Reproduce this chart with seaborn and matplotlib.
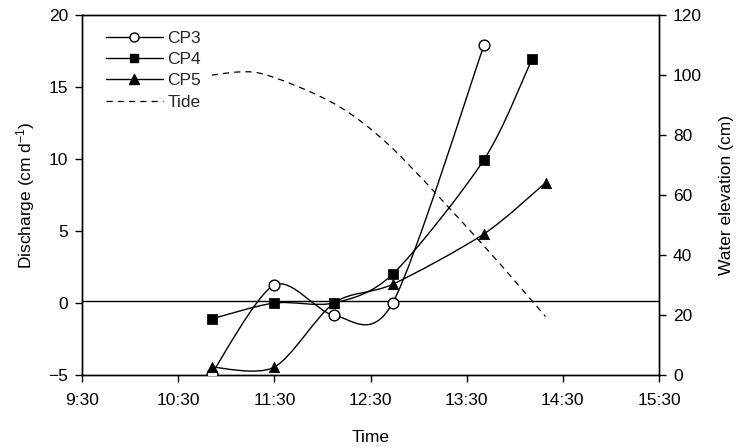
import numpy as np
import pandas as pd
import matplotlib
matplotlib.use("Agg")
import matplotlib.pyplot as plt
from matplotlib.path import Path
from matplotlib.patches import PathPatch
from matplotlib.lines import Line2D
import seaborn as sns

# ---- data (time in decimal hours) ----
cp3_time = [10.85, 11.50, 12.12, 12.73, 13.68]
cp3_q = [-4.9, 1.25, -0.85, 0.0, 17.9]

cp4_time = [10.85, 11.50, 12.12, 12.73, 13.68, 14.18]
cp4_q = [-1.1, 0.0, 0.0, 2.0, 9.95, 16.95]

cp5_time = [10.85, 11.50, 12.12, 12.73, 13.68, 14.32]
cp5_q = [-4.45, -4.45, 0.0, 1.3, 4.8, 8.35]

tide_time = [10.85, 11.35, 12.12, 12.73, 13.68, 14.32]
tide_cm = [100.0, 100.6, 90.5, 75.5, 43.0, 19.5]

xtick_vals = [9.5, 10.5, 11.5, 12.5, 13.5, 14.5, 15.5]
xtick_labels = ["9:30", "10:30", "11:30", "12:30", "13:30", "14:30", "15:30"]
zero_line = 0.15

sns.set_theme(style="white")
plt.rcParams["font.family"] = ["Liberation Sans", "DejaVu Sans"]
plt.rcParams["mathtext.default"] = "regular"
FS = 12.5


def smooth_path(xs, ys, k=1 / 7.0):
    """Bezier path through the data points (Excel-like smoothing)."""
    pts = np.column_stack([xs, ys]).astype(float)
    n = len(pts)
    verts = [pts[0]]
    codes = [Path.MOVETO]
    for i in range(n - 1):
        p0 = pts[i - 1] if i > 0 else pts[i]
        p1 = pts[i]
        p2 = pts[i + 1]
        p3 = pts[i + 2] if i + 2 < n else pts[i + 1]
        c1 = p1 + (p2 - p0) * k
        c2 = p2 - (p3 - p1) * k
        verts += [c1, c2, p2]
        codes += [Path.CURVE4] * 3
    return Path(verts, codes)


fig = plt.figure(figsize=(7.36, 4.48), dpi=100)
ax = fig.add_axes([82 / 736, 1 - 375 / 448, (659 - 82) / 736, (375 - 15) / 448])
ax2 = ax.twinx()

ax.set_xlim(9.5, 15.5)
ax.set_ylim(-5, 20)
ax2.set_ylim(0, 120)

# tide (right axis)
ax2.add_patch(PathPatch(smooth_path(tide_time, tide_cm), fill=False, color="black",
                        lw=0.9, ls=(0, (5, 4)), zorder=2))

# zero reference line
ax.axhline(zero_line, color="black", lw=1.0, zorder=1)

# discharge curves
for t, q in [(cp3_time, cp3_q), (cp4_time, cp4_q), (cp5_time, cp5_q)]:
    ax.add_patch(PathPatch(smooth_path(t, q), fill=False, color="black", lw=1.0, zorder=3))

df3 = pd.DataFrame({"t": cp3_time, "q": cp3_q})
df4 = pd.DataFrame({"t": cp4_time, "q": cp4_q})
df5 = pd.DataFrame({"t": cp5_time, "q": cp5_q})
sns.scatterplot(data=df3, x="t", y="q", ax=ax, marker="o", s=60, facecolor="white",
                edgecolor="black", linewidth=1.0, zorder=4)
sns.scatterplot(data=df4, x="t", y="q", ax=ax, marker="s", s=45, color="black",
                edgecolor="black", zorder=4)
sns.scatterplot(data=df5, x="t", y="q", ax=ax, marker="^", s=55, color="black",
                edgecolor="black", zorder=4)

ax.set_zorder(ax2.get_zorder() + 1)
ax.patch.set_visible(False)

# axes styling
ax.set_xticks(xtick_vals)
ax.set_xticklabels(xtick_labels)
ax.set_yticks([-5, 0, 5, 10, 15, 20])
ax2.set_yticks([0, 20, 40, 60, 80, 100, 120])
for a in (ax, ax2):
    for s in a.spines.values():
        s.set_color("black")
        s.set_linewidth(1.0)
ax.tick_params(axis="x", direction="out", length=5, width=1, colors="black",
               labelsize=FS, bottom=True, top=False, pad=8)
ax.tick_params(axis="y", direction="out", length=5, width=1, colors="black",
               labelsize=FS, left=True, right=False, pad=5)
ax2.tick_params(axis="y", direction="out", length=5, width=1, colors="black",
                labelsize=FS, right=True, left=False, pad=5)

ax.set_xlabel("Time", fontsize=FS, color="black", labelpad=16)
ax.set_ylabel("Discharge (cm d$^{-1}$)", fontsize=FS, color="black", labelpad=8)
ax2.set_ylabel("Water elevation (cm)", fontsize=FS, color="black", labelpad=12)

handles = [
    Line2D([], [], color="black", lw=1.0, marker="o", markersize=6.5,
           markerfacecolor="white", markeredgecolor="black"),
    Line2D([], [], color="black", lw=1.0, marker="s", markersize=6, markerfacecolor="black"),
    Line2D([], [], color="black", lw=1.0, marker="^", markersize=6.5, markerfacecolor="black"),
    Line2D([], [], color="black", lw=0.9, ls=(0, (5, 4))),
]
leg = ax.legend(handles, ["CP3", "CP4", "CP5", "Tide"], loc="upper left",
                bbox_to_anchor=(0.02, 0.99), frameon=False, fontsize=FS,
                handlelength=3.3, handletextpad=0.25, labelspacing=0.35,
                borderaxespad=0.3)

fig.savefig("out.png", dpi=100)
